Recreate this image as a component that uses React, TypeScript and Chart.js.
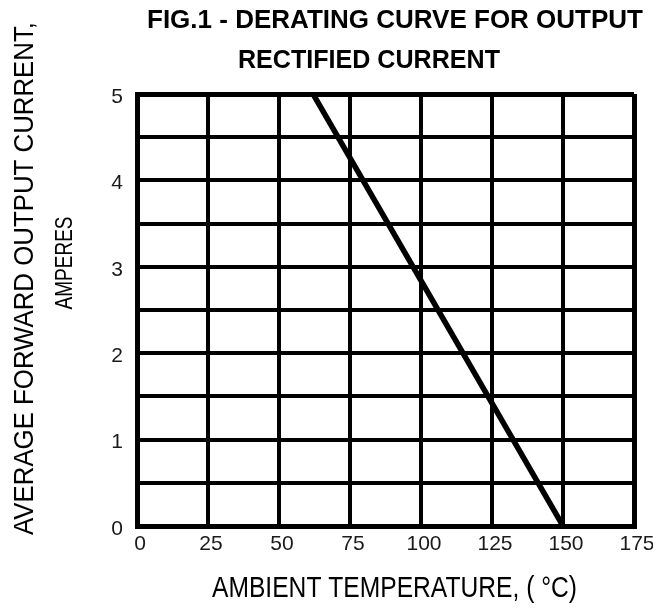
import React, { useEffect, useRef } from "react";
import { Chart, registerables } from "chart.js";

Chart.register(...registerables);

// Data
const temperatures = [62, 150];
const currents = [5, 0];
const xTickValues = [0, 25, 50, 75, 100, 125, 150, 175];
const yTickLabels = ["0", "1", "2", "3", "4", "5"];
const titleLines = ["FIG.1 - DERATING CURVE FOR OUTPUT", "RECTIFIED CURRENT"];
const yTitleLines = ["AVERAGE FORWARD OUTPUT CURRENT,", "AMPERES"];
const xTitle = "AMBIENT TEMPERATURE, ( \u00B0C)";

const FONT = '"Liberation Sans", Arial, sans-serif';

function drawFitted(
  ctx: CanvasRenderingContext2D,
  text: string,
  cx: number,
  baseline: number,
  width: number,
  size: number,
  bold: boolean,
  rotate: boolean
) {
  ctx.save();
  ctx.font = `${bold ? "bold " : ""}${size}px ${FONT}`;
  const w = ctx.measureText(text).width;
  const s = width / w;
  ctx.fillStyle = "#000";
  ctx.textAlign = "center";
  ctx.textBaseline = "alphabetic";
  ctx.translate(cx, baseline);
  if (rotate) ctx.rotate(-Math.PI / 2);
  ctx.scale(s, 1);
  ctx.fillText(text, 0, 0);
  ctx.restore();
}

const textPlugin = {
  id: "refTexts",
  afterDraw(chart: any) {
    const ctx = chart.ctx as CanvasRenderingContext2D;
    drawFitted(ctx, titleLines[0], 395, 28, 496, 25, true, false);
    drawFitted(ctx, titleLines[1], 369, 68, 262, 25, true, false);
    drawFitted(ctx, xTitle, 394.5, 597, 365, 30, false, false);
    drawFitted(ctx, yTitleLines[0], 33, 278.5, 513, 28, false, true);
    drawFitted(ctx, yTitleLines[1], 72, 263, 93, 24, false, true);
  },
};

const TICK_FONT = { family: '"Liberation Sans Narrow", "Liberation Sans", Arial, sans-serif', size: 21 };

export default function App() {
  const ref = useRef<HTMLCanvasElement | null>(null);

  useEffect(() => {
    if (!ref.current) return;
    const data = temperatures.map((t, i) => ({ x: t, y: currents[i] }));
    const xMax = xTickValues[xTickValues.length - 1];
    const yMax = Number(yTickLabels[yTickLabels.length - 1]);
    const chart = new Chart(ref.current, {
      type: "line",
      data: {
        datasets: [
          {
            data,
            borderColor: "#000",
            borderWidth: 5.5,
            pointRadius: 0,
            fill: false,
            tension: 0,
            clip: 0,
          } as any,
        ],
      },
      options: {
        responsive: false,
        animation: false,
        devicePixelRatio: 1,
        layout: { padding: { left: 0, right: 19, top: 94, bottom: 32 } },
        plugins: {
          legend: { display: false },
          title: { display: false },
          tooltip: { enabled: false },
        },
        scales: {
          x: {
            type: "linear",
            min: xTickValues[0],
            max: xMax,
            afterFit: (scale: any) => {
              scale.height = 50;
              scale.paddingLeft = 0;
              scale.paddingRight = 0;
            },
            afterBuildTicks: (scale: any) => {
              scale.ticks = xTickValues.map((v) => ({ value: v }));
            },
            ticks: {
              padding: 6,
              labelOffset: 3,
              color: "#1a1a1a",
              font: TICK_FONT,
              callback: (v: any) => String(v),
              maxRotation: 0,
              autoSkip: false,
            },
            grid: {
              color: "#000",
              lineWidth: (c: any) => (c.tick && (c.tick.value === 0 || c.tick.value === xMax) ? 5 : 4),
              drawTicks: false,
            },
            border: { display: true, color: "#000", width: 5 },
          },
          y: {
            type: "linear",
            min: 0,
            max: yMax,
            afterFit: (scale: any) => {
              scale.width = 137;
              scale.paddingTop = 0;
              scale.paddingBottom = 0;
            },
            ticks: {
              stepSize: 0.5,
              padding: 14,
              labelOffset: 3,
              color: "#1a1a1a",
              font: TICK_FONT,
              callback: (v: any) => {
                const n = Number(v);
                return Number.isInteger(n) ? yTickLabels[n] : "";
              },
              autoSkip: false,
            },
            grid: {
              color: "#000",
              lineWidth: (c: any) => (c.tick && (c.tick.value === 0 || c.tick.value === yMax) ? 5 : 4),
              drawTicks: false,
            },
            border: { display: true, color: "#000", width: 5 },
          },
        },
      },
      plugins: [textPlugin],
    });
    return () => chart.destroy();
  }, []);

  return (
    <div style={{ position: "absolute", left: 0, top: 0, width: 653, height: 608, background: "#fff" }}>
      <canvas ref={ref} width={653} height={608} style={{ display: "block" }} />
    </div>
  );
}
